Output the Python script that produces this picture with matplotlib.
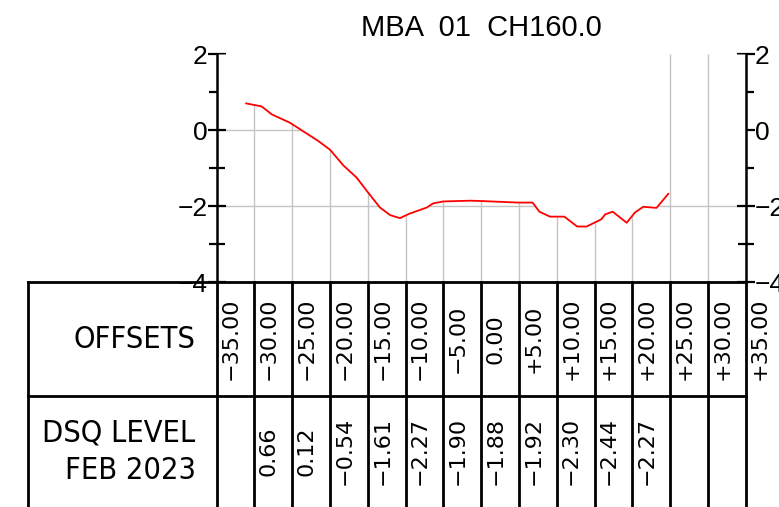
import numpy as np
import matplotlib.pyplot as plt

# ground profile (offset, level)
offsets = [-31.1, -29.05, -27.7, -25.3, -21.55, -20.0, -18.25, -16.5, -14.95, -13.4,
           -12.05, -10.75, -9.6, -7.2, -6.35, -5.0, -1.4, 0.1, 4.9, 6.8,
           7.7, 9.1, 11.0, 12.7, 13.95, 15.9, 16.4, 17.4, 19.25, 20.35,
           21.45, 23.2, 24.75]
levels = [0.70, 0.62, 0.41, 0.19, -0.29, -0.52, -0.93, -1.25, -1.65, -2.04,
          -2.24, -2.32, -2.21, -2.04, -1.93, -1.88, -1.86, -1.87, -1.91, -1.91,
          -2.15, -2.28, -2.28, -2.54, -2.54, -2.35, -2.22, -2.15, -2.44, -2.17,
          -2.02, -2.05, -1.68]

# table
stations = [-35, -30, -25, -20, -15, -10, -5, 0, 5, 10, 15, 20, 25, 30, 35]
station_labels = ["−35.00", "−30.00", "−25.00", "−20.00", "−15.00", "−10.00", "−5.00",
                  "0.00", "+5.00", "+10.00", "+15.00", "+20.00", "+25.00", "+30.00", "+35.00"]
dsq_labels = ["", "0.66", "0.12", "−0.54", "−1.61", "−2.27", "−1.90",
              "−1.88", "−1.92", "−2.30", "−2.44", "−2.27", "", ""]

title = "MBA  01  CH160.0"

plt.rcParams['font.family'] = ['Liberation Sans', 'DejaVu Sans']

fig = plt.figure(figsize=(7.79, 5.07), dpi=100)
ax = fig.add_axes([216.7/779, 225/507, 529/779, 228/507])
ax.set_xlim(-35, 35)
ax.set_ylim(-4, 2)

grid_col = '#c4c4c4'
# horizontal grid, hidden above the ground line
for yv in [0, -2]:
    ax.axhline(yv, color=grid_col, lw=1.0, zorder=1)
x_fill = [-35] + offsets + [35]
y_fill = [levels[0]] + levels + [levels[-1]]
ax.fill_between(x_fill, y_fill, 2, color='white', lw=0, zorder=2)

# vertical grid from ground line down
gx = np.array(stations[1:-1])
inside = (gx >= offsets[0]) & (gx <= offsets[-1])
gtop = np.where(inside, np.interp(gx, offsets, levels), 2)
ax.vlines(gx, -4, gtop, color=grid_col, lw=1.0, zorder=3)

ax.plot(offsets, levels, color='red', lw=1.3, zorder=4)

# axes look
for s in ['top', 'bottom']:
    ax.spines[s].set_visible(False)
for s in ['left', 'right']:
    ax.spines[s].set_linewidth(1.8)
ax.set_xticks([])
ax.set_yticks([-4, -2, 0, 2])
ax.set_yticks([-3, -1, 1], minor=True)
ax.tick_params(axis='y', which='both', direction='inout', left=True, right=True,
               labelleft=True, labelright=True, width=1.6, pad=0, labelsize=19)
ax.tick_params(axis='y', which='major', length=13)
ax.tick_params(axis='y', which='minor', length=11.5)

ax.text(0, 2.68, title, ha='center', va='center', fontsize=21)

# table lines
lw_t = 2.0
tkw = dict(color='black', lw=lw_t, clip_on=False, zorder=5, solid_capstyle='projecting')
ax.plot([-60, 35], [-4, -4], **tkw)
ax.plot([-60, 35], [-7, -7], **tkw)
ax.plot([-60, -60], [-4, -11], **tkw)
for st in stations:
    ax.plot([st, st], [-4, -11], **tkw)

hdr = dict(ha='right', va='center', fontsize=22, family='DejaVu Sans', fontstretch='condensed')
ax.text(-37.8, -5.5, "OFFSETS", **hdr)
ax.text(-37.8, -7.97, "DSQ LEVEL", **hdr)
ax.text(-37.8, -8.97, "FEB 2023", **hdr)

for st, lab in zip(stations, station_labels):
    ax.text(st + 2.5 - 0.6, -5.5, lab, rotation=90, ha='center', va='center',
            fontsize=16, family='DejaVu Sans', clip_on=False)
for st, lab in zip(stations[:-1], dsq_labels):
    if lab:
        ax.text(st + 2.5 - 0.6, -8.45, lab, rotation=90, ha='center', va='center',
                fontsize=16, family='DejaVu Sans', clip_on=False)

fig.savefig("out.png", dpi=100)
